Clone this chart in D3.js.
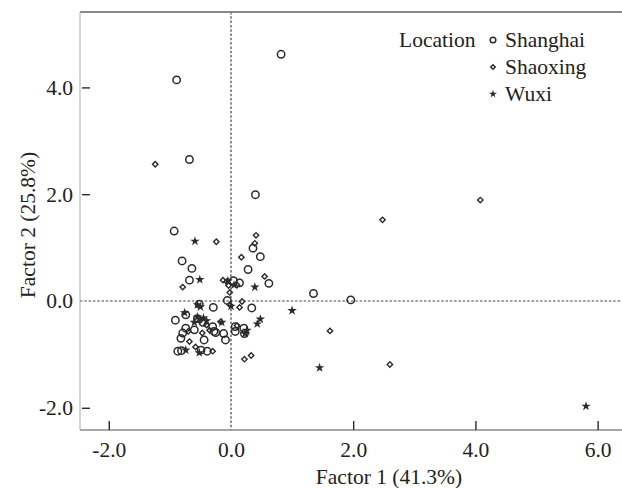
<!DOCTYPE html>
<html>
<head>
<meta charset="utf-8">
<script src="https://cdn.jsdelivr.net/npm/d3@7"></script>
<style>
html,body{margin:0;padding:0;background:#fff;}
svg{display:block;}
text{font-family:"Liberation Serif","Times New Roman",serif;fill:#222;}
</style>
</head>
<body>
<svg id="chart" width="622" height="488"></svg>
<script>
// ---- data ----
const seriesNames = ["Shanghai", "Shaoxing", "Wuxi"];
const legendTitle = "Location";
const xTitle = "Factor 1 (41.3%)";
const yTitle = "Factor 2 (25.8%)";
const xTickValues = [-2, 0, 2, 4, 6];
const yTickValues = [-2, 0, 2, 4];

const shanghai = [
[0.82,4.62],[-0.89,4.14],[-0.68,2.65],[0.40,1.99],[-0.93,1.31],[0.36,0.99],[0.48,0.83],
[-0.80,0.75],[-0.64,0.61],[0.28,0.59],[-0.68,0.39],[0.62,0.33],[0.04,0.38],[0.14,0.34],
[1.35,0.14],[1.96,0.02],[-0.06,0.01],[0.34,-0.13],[-0.52,-0.06],[-0.29,-0.12],[-0.91,-0.36],
[-0.74,-0.26],[-0.30,-0.48],[-0.28,-0.57],[-0.74,-0.51],[-0.79,-0.60],[-0.60,-0.54],[-0.82,-0.70],
[-0.44,-0.73],[-0.87,-0.94],[-0.81,-0.93],[-0.49,-0.92],[-0.39,-0.94],[-0.25,-0.59],[-0.12,-0.61],
[-0.09,-0.73],[0.07,-0.48],[0.07,-0.57],[0.21,-0.51],[0.22,-0.61],[-0.46,-0.40],[-0.55,-0.33]
];
const shaoxing = [
[4.08,1.89],[2.48,1.52],[-1.24,2.56],[0.41,1.23],[0.39,1.08],[-0.24,1.11],[0.17,0.82],
[0.55,0.46],[-0.79,0.26],[-0.13,0.39],[-0.07,0.36],[0.10,0.30],[-0.04,0.29],[-0.02,0.16],
[0.18,-0.01],[-0.02,-0.07],[0.14,-0.12],[1.62,-0.56],[2.60,-1.19],[0.22,-1.09],[0.33,-1.02],
[0.10,-0.46],[-0.17,-0.39],[-0.47,-0.60],[-0.68,-0.76],[-0.30,-0.94],[-0.50,-0.36],[-0.40,-0.45],
[-0.70,-0.57],[-0.58,-0.86],[-0.35,-0.55]
];
const wuxi = [
[5.81,-1.97],[1.45,-1.25],[1.00,-0.18],[0.48,-0.34],[0.43,-0.43],[0.39,0.26],[-0.59,1.12],
[-0.51,0.40],[0.00,-0.10],[-0.76,-0.22],[-0.55,-0.07],[-0.50,-0.11],[-0.45,-0.32],[-0.40,-0.37],
[-0.52,-0.97],[-0.74,-0.92],[0.23,-0.61],[0.26,-0.55],[-0.60,-0.40],[0.05,0.30],[-0.05,0.38],
[-0.15,-0.40],[-0.55,-0.30]
];

// ---- layout ----
const L = 80, R = 622, T = 12, B = 430;
const FS = "21.5px";
const x = d3.scaleLinear().domain([-2.471, 6.399]).range([L, R]);
const y = d3.scaleLinear().domain([-2.416, 5.412]).range([B, T]);
const ink = "#2b2b2b";
const fmt = d => d.toFixed(1);
const svg = d3.select("#chart");

// zero reference lines
svg.append("line").attr("x1", L).attr("x2", R).attr("y1", y(0)).attr("y2", y(0))
  .attr("stroke", "#444").attr("stroke-width", 1.2).attr("stroke-dasharray", "2.5,1.8");
svg.append("line").attr("x1", x(0)).attr("x2", x(0)).attr("y1", T).attr("y2", B)
  .attr("stroke", "#444").attr("stroke-width", 1.2).attr("stroke-dasharray", "2.5,1.8");

// frame
svg.append("line").attr("x1", L).attr("x2", R).attr("y1", T).attr("y2", T)
  .attr("stroke", "#888").attr("stroke-width", 2);
svg.append("line").attr("x1", L).attr("x2", L).attr("y1", T).attr("y2", B)
  .attr("stroke", "#aaa").attr("stroke-width", 1);
svg.append("line").attr("x1", L).attr("x2", R).attr("y1", B).attr("y2", B)
  .attr("stroke", "#888").attr("stroke-width", 1.5);

// axes (ticks inward)
const xAxis = d3.axisBottom(x).tickValues(xTickValues).tickSize(0).tickPadding(0)
  .tickFormat(fmt);
const gx = svg.append("g").attr("transform", `translate(0,${B})`).call(xAxis);
gx.select(".domain").remove();
gx.selectAll(".tick text").attr("dy", "1.1em").attr("y", 3)
  .style("font-size", FS).attr("fill", "#222")
  .style("font-family", '"Liberation Serif",serif');
gx.selectAll(".tick").filter(d => d !== 0).append("line")
  .attr("y1", 0).attr("y2", -9).attr("stroke", ink).attr("stroke-width", 1.4);

const yAxis = d3.axisLeft(y).tickValues(yTickValues).tickSize(0).tickPadding(7)
  .tickFormat(fmt);
const gy = svg.append("g").attr("transform", `translate(${L},0)`).call(yAxis);
gy.select(".domain").remove();
gy.selectAll(".tick text").style("font-size", FS).attr("fill", "#222")
  .style("font-family", '"Liberation Serif",serif');
gy.selectAll(".tick").filter(d => d !== 0).append("line")
  .attr("x1", 2).attr("x2", 10).attr("stroke", ink).attr("stroke-width", 1.4);

// titles
svg.append("text").attr("x", 389).attr("y", 484).attr("text-anchor", "middle")
  .style("font-size", FS).text(xTitle);
svg.append("text").attr("transform", `translate(35,${(T + B) / 2 + 4}) rotate(-90)`)
  .attr("text-anchor", "middle").style("font-size", FS).text(yTitle);

// markers
const star = d3.symbol().type(d3.symbolStar);
function drawCircle(g, px, py, r) {
  g.append("circle").attr("cx", px).attr("cy", py).attr("r", r)
    .attr("fill", "none").attr("stroke", ink).attr("stroke-width", 1.5);
}
function drawDiamond(g, px, py, s) {
  g.append("rect").attr("x", -s / 2).attr("y", -s / 2).attr("width", s).attr("height", s)
    .attr("transform", `translate(${px},${py}) rotate(45)`)
    .attr("fill", "none").attr("stroke", ink).attr("stroke-width", 1.4);
}
function drawStar(g, px, py, size) {
  g.append("path").attr("d", star.size(size)()).attr("transform", `translate(${px},${py})`)
    .attr("fill", ink);
}

const pts = svg.append("g");
shaoxing.forEach(d => drawDiamond(pts, x(d[0]), y(d[1]), 3.8));
shanghai.forEach(d => drawCircle(pts, x(d[0]), y(d[1]), 3.7));
wuxi.forEach(d => drawStar(pts, x(d[0]), y(d[1]), 28));

// legend
const lg = svg.append("g");
lg.append("text").attr("x", 399).attr("y", 47).style("font-size", FS).text(legendTitle);
const rows = [40, 67, 94];
drawCircle(lg, 493, rows[0], 2.8);
drawDiamond(lg, 493, rows[1], 3.2);
drawStar(lg, 493, rows[2], 20);
seriesNames.forEach((n, i) => {
  lg.append("text").attr("x", 505).attr("y", rows[i] + 7).style("font-size", FS).text(n);
});
</script>
</body>
</html>
